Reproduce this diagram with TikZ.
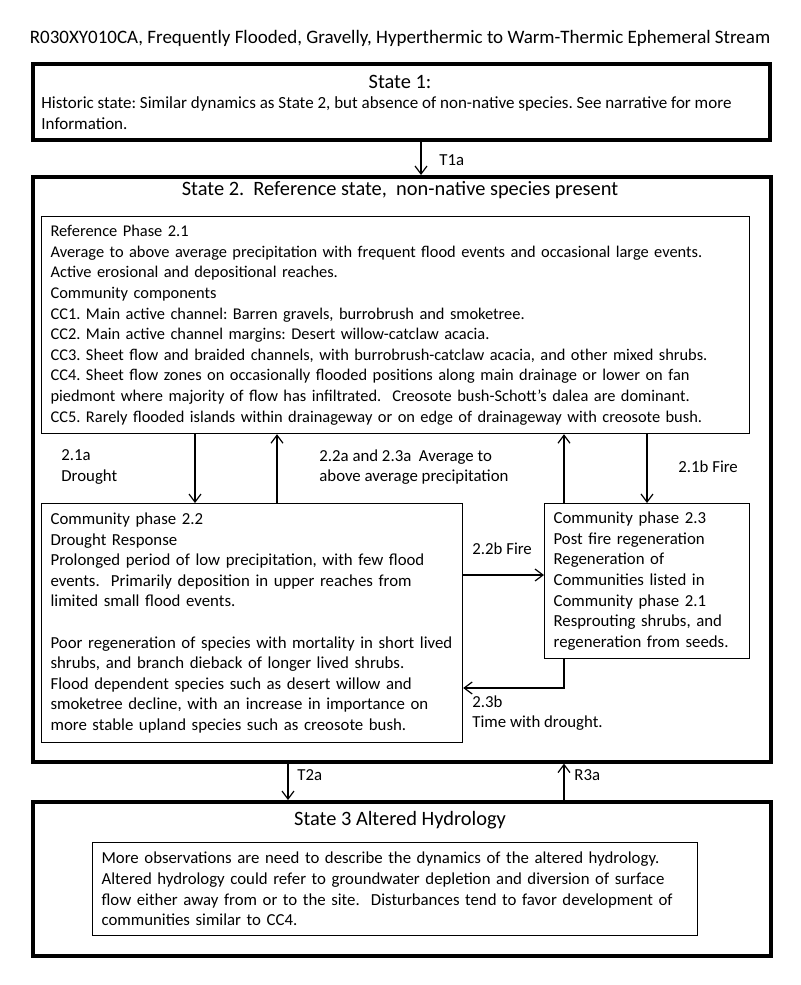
\documentclass[tikz,border=0pt]{standalone}
\usepackage{fontspec}
\setmainfont{Carlito}
\usetikzlibrary{arrows.meta}

\newcommand{\bodyfont}{\fontsize{8.4}{10.3}\selectfont}
\newcommand{\titlefont}{\fontsize{10.2}{12}\selectfont}
\frenchspacing

\tikzset{
  statebox/.style={draw, line width=1.8pt, rectangle, inner sep=0pt},
  phasebox/.style={draw, line width=0.6pt, rectangle, align=left,
    inner xsep=4.5pt, inner ysep=0pt, font=\bodyfont},
  bodytext/.style={align=left, inner sep=0pt, font=\bodyfont},
  statetitle/.style={inner sep=0pt, font=\titlefont},
  arr/.style={-{Straight Barb[length=4pt,width=6pt]}, line width=0.6pt},
}

\begin{document}
\begin{tikzpicture}[x=0.5pt,y=-0.5pt]

  \fill[white] (0,0) rectangle (800,985);
  \useasboundingbox (0,0) rectangle (800,985);

  % heading
  \node[bodytext, font=\fontsize{9.5}{11}\selectfont] (head) at (400,38) {R030XY010CA,\ Frequently Flooded, Gravelly, Hyperthermic to Warm-Thermic Ephemeral Stream};

  % state 1
  \node[statebox, anchor=north west, minimum width=368.5pt, minimum height=38pt] (s1) at (31,62) {};
  \node[statetitle] (s1title) at (400,82) {State 1:};
  \node[bodytext, anchor=west, font=\fontsize{8.5}{10.4}\selectfont] (s1text) at (41,113.5) {Historic state: Similar dynamics as State\ 2, but absence of non-native\ species.\ See narrative for more\\Information.};

  % state 2
  \node[statebox, anchor=north west, minimum width=369pt, minimum height=292.5pt] (s2) at (31,175) {};
  \node[statetitle] (s2title) at (400,190) {State 2.\ \ Reference state,\ \ non-native species present};

  % reference phase 2.1
  \node[phasebox, anchor=north west, text width=345pt, minimum height=108.5pt, font=\fontsize{8.2}{10.3}\selectfont] (p21) at (41,216) {Reference Phase 2.1\\
    Average to above average precipitation with frequent flood events and occasional large events.\\
    Active erosional and depositional reaches.\\
    Community\ components\\
    CC1. Main\ active channel: Barren gravels, burrobrush and smoketree.\\
    CC2. Main\ active channel margins:\ Desert willow-catclaw\ acacia.\\
    CC3. Sheet flow and braided channels, with burrobrush-catclaw acacia, and other mixed shrubs.\\
    CC4. Sheet flow zones on occasionally flooded positions along main drainage\ or lower on fan\\
    piedmont where majority\ of flow has infiltrated.\ \ Creosote bush-Schott's\ dalea are dominant.\\
    CC5.\ Rarely flooded islands within drainageway or on edge of drainageway with creosote bush.};

  % community phase 2.2
  \node[phasebox, anchor=north west, text width=201.5pt, minimum height=119.5pt] (p22) at (41,503) {Community phase 2.2\\
    Drought Response\\
    Prolonged period of low precipitation, with few flood\\
    events.\ \ Primarily deposition in upper reaches from\\
    limited small flood events.\\[10.3pt]
    Poor regeneration of species with mortality\ in short lived\\
    shrubs, and branch dieback of longer lived shrubs.\\
    Flood dependent species such as desert willow and\\
    smoketree decline, with an increase in importance on\\
    more stable upland species such as creosote bush.};

  % community phase 2.3
  \node[phasebox, anchor=north west, text width=93.5pt, minimum height=77.5pt] (p23) at (544,503) {Community phase 2.3\\
    Post fire regeneration\\
    Regeneration of\\
    Communities listed in\\
    Community phase 2.1\\
    Resprouting shrubs, and\\
    regeneration from seeds.};

  % state 3
  \node[statebox, anchor=north west, minimum width=369pt, minimum height=77pt] (s3) at (31,800) {};
  \node[statetitle] (s3title) at (400,820) {State 3 Altered Hydrology};
  \node[phasebox, anchor=north west, text width=293.5pt, minimum height=46.5pt] (s3in) at (92,842) {More observations are need to describe the dynamics of the\ altered hydrology.\\
    Altered hydrology\ could refer to\ groundwater\ depletion and diversion of surface\\
    flow either away from or to the\ site.\ \ Disturbances tend to favor development of\\
    communities similar to CC4.};

  % transitions between states
  \coordinate (kT1a) at (421,0);
  \coordinate (kT2a) at (288,0);
  \coordinate (kR3a) at (564,0);
  \draw[arr] (s1.south -| kT1a) -- (s2.north -| kT1a);
  \node[bodytext, anchor=west] (lT1a) at (439,160) {T1a};
  \draw[arr] (s2.south -| kT2a) -- (s3.north -| kT2a);
  \node[bodytext, anchor=west] (lT2a) at (297,775) {T2a};
  \draw[arr] (s3.north -| kR3a) -- (s2.south -| kR3a);
  \node[bodytext, anchor=west] (lR3a) at (574,775) {R3a};

  % pathways between phases
  \coordinate (k21a) at (195,0);
  \coordinate (k22a) at (277,0);
  \coordinate (k23a) at (564,0);
  \coordinate (k21b) at (647,0);
  \coordinate (k22b) at (0,575);
  \coordinate (k23b) at (564,688);
  \draw[arr] (p21.south -| k21a) -- (p22.north -| k21a);
  \draw[arr] (p22.north -| k22a) -- (p21.south -| k22a);
  \draw[arr] (p23.north -| k23a) -- (p21.south -| k23a);
  \draw[arr] (p21.south -| k21b) -- (p23.north -| k21b);
  \draw[arr] (p22.east |- k22b) -- (p23.west |- k22b);
  \draw[arr] (p23.south -| k23b) -- (k23b) -- (p22.east |- k23b);

  \node[bodytext, anchor=west] (l21a) at (61,467) {2.1a\\Drought};
  \node[bodytext, anchor=west] (l22a) at (319,467) {2.2a and 2.3a\ \ Average to\\above average precipitation};
  \node[bodytext, anchor=west] (l21b) at (678,467) {2.1b Fire};
  \node[bodytext, anchor=west] (l22b) at (472,549) {2.2b Fire};
  \node[bodytext, anchor=west] (l23b) at (472,713) {2.3b\\Time with drought.};

\end{tikzpicture}
\end{document}
